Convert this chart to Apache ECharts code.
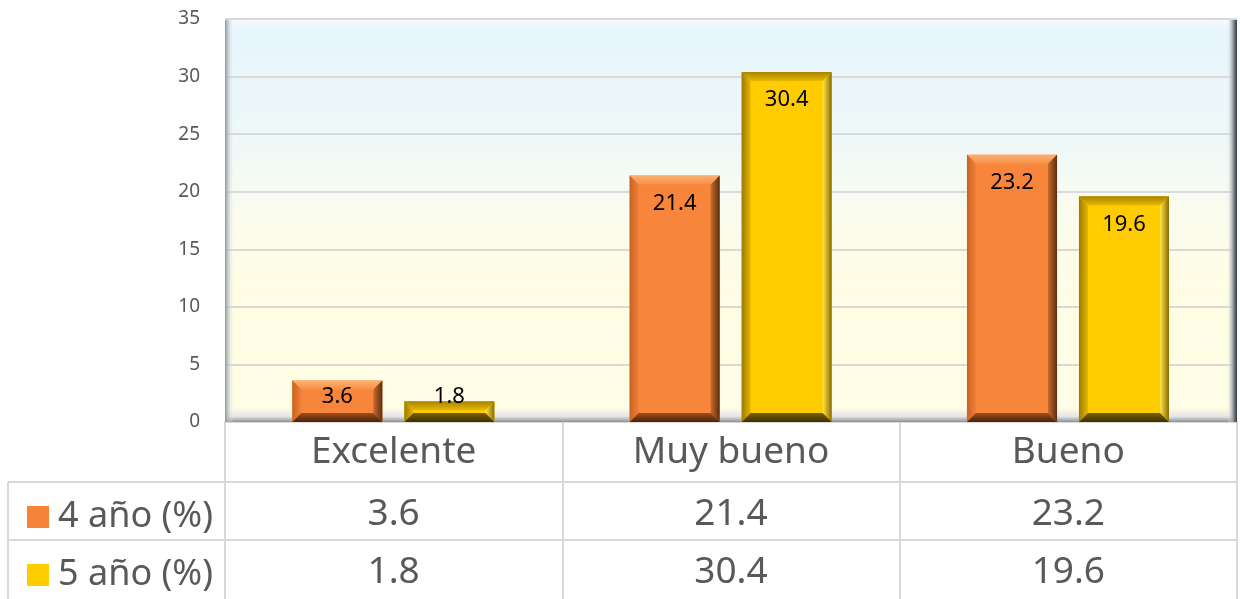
<!DOCTYPE html>
<html>
<head>
<meta charset="UTF-8">
<title>bevel bars</title>
<script src="https://cdn.jsdelivr.net/npm/echarts@6/dist/echarts.min.js"></script>
<style>
  html, body { margin:0; padding:0; background:#fff; }
  #main { width:1240px; height:599px; }
</style>
</head>
<body>
<div id="main"></div>
<script>
// datos
var categorias = ['Excelente', 'Muy bueno', 'Bueno'];
var serie4 = [3.6, 21.4, 23.2];
var serie5 = [1.8, 30.4, 19.6];
var nombres = ['4 año (%)', '5 año (%)'];

var L = 225, R = 1237, T = 19, B = 422;
var gris = '#d9d9d9';
var fuente = '"Noto Sans", "Open Sans", sans-serif';
var G = echarts.graphic.LinearGradient;

var estilos = [
  { main:'#f7853b',
    top:new G(0,0,0,1,[{offset:0,color:'#fbb070'},{offset:1,color:'#f89048'}]),
    left:new G(0,0,1,0,[{offset:0,color:'#c9631f'},{offset:1,color:'#f0803a'}]),
    right:new G(0,0,1,0,[{offset:0,color:'#c86a2a'},{offset:1,color:'#5a2e12'}]),
    bottom:new G(0,0,0,1,[{offset:0,color:'#a04d18'},{offset:1,color:'#4a240c'}]) },
  { main:'#ffcc00',
    top:new G(0,0,0,1,[{offset:0,color:'#a88300'},{offset:1,color:'#e8b800'}]),
    left:new G(0,0,1,0,[{offset:0,color:'#9c7a00'},{offset:1,color:'#e6b800'}]),
    right:new G(0,0,1,0,[{offset:0,color:'#ffe44a'},{offset:1,color:'#8a6c00'}]),
    bottom:new G(0,0,0,1,[{offset:0,color:'#7a6000'},{offset:1,color:'#3e3000'}]) }
];

function bevel(s) {
  var st = estilos[s];
  return function (params, api) {
    var i = api.value(0), v = api.value(1);
    var c = api.coord([i, v]);
    var base = api.coord([i, 0]);
    var band = api.size([1, 0])[0];
    var w = band * 0.267;
    var cx = c[0] + (s === 0 ? -0.167 : 0.165) * band;
    var x0 = cx - w / 2, x1 = cx + w / 2, y0 = c[1], y1 = base[1];
    var b = Math.min(9, (y1 - y0) / 2);
    var ly = Math.min(y0 + 28, y1 - 25);
    return {
      type: 'group',
      children: [
        { type:'rect', shape:{ x:x0, y:y0, width:w, height:y1 - y0 }, style:{ fill:st.main } },
        { type:'polygon', shape:{ points:[[x0,y0],[x1,y0],[x1-b,y0+b],[x0+b,y0+b]] }, style:{ fill:st.top } },
        { type:'polygon', shape:{ points:[[x0,y0],[x0+b,y0+b],[x0+b,y1-b],[x0,y1]] }, style:{ fill:st.left } },
        { type:'polygon', shape:{ points:[[x1,y0],[x1,y1],[x1-b,y1-b],[x1-b,y0+b]] }, style:{ fill:st.right } },
        { type:'polygon', shape:{ points:[[x0,y1],[x0+b,y1-b],[x1-b,y1-b],[x1,y1]] }, style:{ fill:st.bottom } },
        { type:'text', style:{ x:cx, y:ly, text:String(v), align:'center', verticalAlign:'middle',
          fill:'#000', font:'22px ' + fuente } }
      ]
    };
  };
}

function ejeTabla(offset, valores, len, margen) {
  return {
    type:'category', data:categorias, position:'bottom', offset:offset,
    axisLine:{ show:true, lineStyle:{ color:gris, width:2 } },
    axisTick:{ show:true, alignWithLabel:false, length:len, lineStyle:{ color:gris, width:2 } },
    axisLabel:{ margin:margen, fontSize:37, color:'#595959', fontFamily:fuente,
      formatter: function (val, idx) { return valores ? String(valores[idx]) : val; } },
    splitLine:{ show:false }
  };
}

var chart = echarts.init(document.getElementById('main'));
chart.setOption({
  animation:false,
  backgroundColor:'#fff',
  grid:{ left:L, right:1240 - R, top:T, bottom:599 - B, show:true, borderWidth:0,
    backgroundColor:new G(0, 0, 0, 1, [
      { offset:0, color:'#e6f5fd' }, { offset:0.3, color:'#eef8f8' },
      { offset:0.5, color:'#fcfcee' }, { offset:0.7, color:'#fffde3' }, { offset:1, color:'#fffde6' }]) },
  legend:{ orient:'vertical', left:22, top:494, itemGap:22, itemWidth:22, itemHeight:22,
    icon:'rect', selectedMode:false,
    textStyle:{ fontSize:36, lineHeight:36, color:'#595959', fontFamily:fuente, padding:[0,0,0,4] },
    data:nombres },
  xAxis:[ ejeTabla(0, null, 60, 12), ejeTabla(60, serie4, 58, 14), ejeTabla(118, serie5, 60, 14) ],
  yAxis:{ type:'value', min:0, max:35, interval:5,
    axisLine:{ show:false }, axisTick:{ show:false },
    axisLabel:{ margin:25, fontSize:19, color:'#595959', fontFamily:fuente },
    splitLine:{ lineStyle:{ color:gris, width:2 } } },
  graphic:[
    { type:'rect', shape:{ x:L, y:T, width:R - L, height:12 }, z:1,
      style:{ fill:new G(0,0,0,1,[{offset:0,color:'#fbfdfe'},{offset:1,color:'rgba(240,248,252,0)'}]) } },
    { type:'rect', shape:{ x:L, y:B - 14, width:R - L, height:14 }, z:1,
      style:{ fill:new G(0,0,0,1,[{offset:0,color:'rgba(230,232,232,0)'},{offset:0.6,color:'#e4e6e6'},{offset:1,color:'#8c9296'}]) } },
    { type:'rect', shape:{ x:L, y:T, width:8, height:B - T }, z:1,
      style:{ fill:new G(0,0,1,0,[{offset:0,color:'#8e969c'},{offset:1,color:'rgba(230,236,240,0.1)'}]) } },
    { type:'rect', shape:{ x:R - 9, y:T, width:9, height:B - T }, z:1,
      style:{ fill:new G(0,0,1,0,[{offset:0,color:'rgba(220,226,230,0.2)'},{offset:0.6,color:'#8a9096'},{offset:1,color:'#30363a'}]) } },
    { type:'line', shape:{ x1:L, y1:T, x2:R, y2:T }, z:1, style:{ stroke:gris, lineWidth:2 } },
    { type:'line', shape:{ x1:8, y1:482, x2:L, y2:482 }, style:{ stroke:gris, lineWidth:2 } },
    { type:'line', shape:{ x1:8, y1:540, x2:L, y2:540 }, style:{ stroke:gris, lineWidth:2 } },
    { type:'line', shape:{ x1:8, y1:482, x2:8, y2:599 }, style:{ stroke:gris, lineWidth:2 } }
  ],
  series:[
    { name:nombres[0], type:'custom', renderItem:bevel(0), itemStyle:{ color:'#f5843a' },
      data:serie4.map(function (v, i) { return [i, v]; }), z:3 },
    { name:nombres[1], type:'custom', renderItem:bevel(1), itemStyle:{ color:'#ffcc00' },
      data:serie5.map(function (v, i) { return [i, v]; }), z:3 }
  ]
});
</script>
</body>
</html>
